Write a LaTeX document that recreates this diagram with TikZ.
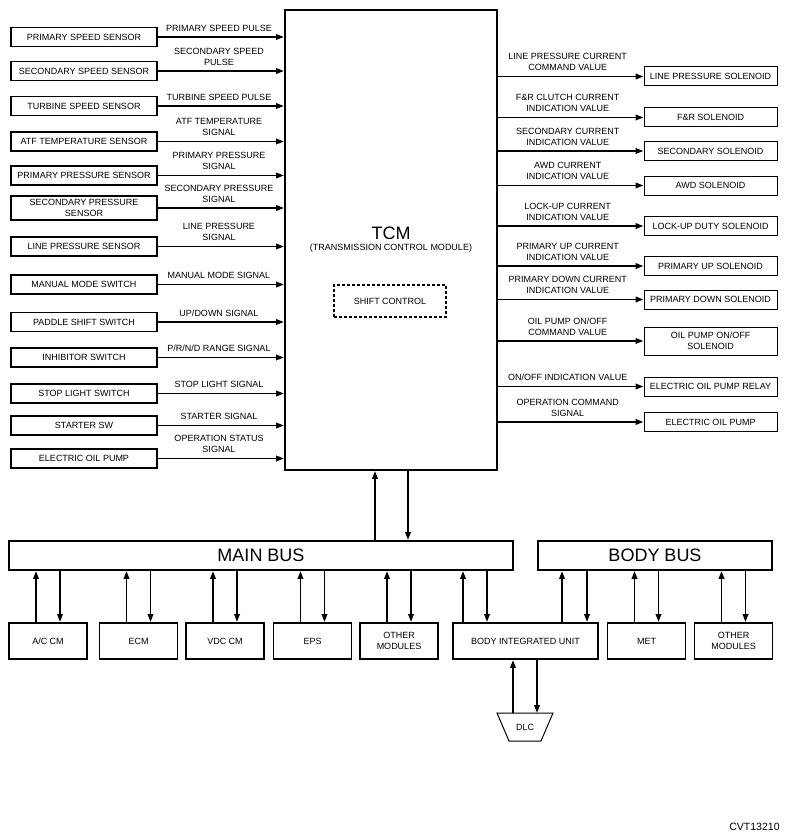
\documentclass[tikz,border=0pt]{standalone}
\usepackage{fontspec}
\setmainfont{Liberation Sans}
\usetikzlibrary{arrows.meta}
\newcommand{\fs}{\fontsize{9}{11}\selectfont}
\begin{document}
\begin{tikzpicture}[x=1pt,y=-1pt,
  lbox/.style={draw, line width=1.9pt, minimum width=146pt, minimum height=19pt, inner sep=0pt, align=center, font=\fs},
  rbox/.style={draw, line width=1pt, minimum width=133pt, minimum height=19pt, inner sep=0pt, align=center, font=\fs},
  mbox/.style={draw, line width=1.9pt, minimum width=78pt, minimum height=36pt, inner sep=0pt, align=center, font=\fs},
  busbox/.style={draw, line width=1.9pt, minimum height=29pt, inner sep=0pt, font=\fontsize{18}{20}\selectfont},
  sig/.style={font=\fs, align=center, anchor=south, inner sep=0pt, text depth=0pt, yshift=5pt},
  arr/.style={line width=1.9pt, -{Triangle[length=8pt,width=5.5pt]}}]
\useasboundingbox (0,0) rectangle (791,840);

% TCM
\node[draw, line width=1.9pt, minimum width=212pt, minimum height=460pt, inner sep=0pt] (tcm) at (391,240) {};
\node[font=\fontsize{18}{20}\selectfont, inner sep=0pt] (tcmt) at (391,233) {TCM};
\node[font=\fs, inner sep=0pt] (tcms) at (391,248) {(TRANSMISSION CONTROL MODULE)};
\node[draw, line width=1.4pt, dash pattern=on 3pt off 2pt, minimum width=112pt, minimum height=32pt, inner sep=0pt, font=\fs] (shift) at (390,301) {SHIFT CONTROL};

% left inputs
\node[lbox] (l1) at (84,37) {PRIMARY SPEED SENSOR};
\node[lbox] (l2) at (84,71) {SECONDARY SPEED SENSOR};
\node[lbox] (l3) at (84,106) {TURBINE SPEED SENSOR};
\node[lbox] (l4) at (84,141.5) {ATF TEMPERATURE SENSOR};
\node[lbox] (l5) at (84,175.5) {PRIMARY PRESSURE SENSOR};
\node[lbox, minimum height=24pt] (l6) at (84,208) {SECONDARY PRESSURE\\SENSOR};
\node[lbox] (l7) at (84,246.5) {LINE PRESSURE SENSOR};
\node[lbox] (l8) at (84,284.5) {MANUAL MODE SWITCH};
\node[lbox] (l9) at (84,322) {PADDLE SHIFT SWITCH};
\node[lbox] (l10) at (84,357.5) {INHIBITOR SWITCH};
\node[lbox] (l11) at (84,393.5) {STOP LIGHT SWITCH};
\node[lbox] (l12) at (84,425.5) {STARTER SW};
\node[lbox] (l13) at (84,458.5) {ELECTRIC OIL PUMP};

\draw[arr] (l1.east) -- (tcm.west |- l1.east) node[midway, sig, xshift=-2pt] {PRIMARY SPEED PULSE};
\draw[arr] (l2.east) -- (tcm.west |- l2.east) node[midway, sig, xshift=-2pt] {SECONDARY SPEED\\PULSE};
\draw[arr] (l3.east) -- (tcm.west |- l3.east) node[midway, sig, xshift=-2pt] {TURBINE SPEED PULSE};
\draw[arr] (l4.east) -- (tcm.west |- l4.east) node[midway, sig, xshift=-2pt] {ATF TEMPERATURE\\SIGNAL};
\draw[arr] (l5.east) -- (tcm.west |- l5.east) node[midway, sig, xshift=-2pt] {PRIMARY PRESSURE\\SIGNAL};
\draw[arr] (l6.east) -- (tcm.west |- l6.east) node[midway, sig, xshift=-2pt] {SECONDARY PRESSURE\\SIGNAL};
\draw[arr] (l7.east) -- (tcm.west |- l7.east) node[midway, sig, xshift=-2pt] {LINE PRESSURE\\SIGNAL};
\draw[arr] (l8.east) -- (tcm.west |- l8.east) node[midway, sig, xshift=-2pt] {MANUAL MODE SIGNAL};
\draw[arr] (l9.east) -- (tcm.west |- l9.east) node[midway, sig, xshift=-2pt] {UP/DOWN SIGNAL};
\draw[arr] (l10.east) -- (tcm.west |- l10.east) node[midway, sig, xshift=-2pt] {P/R/N/D RANGE SIGNAL};
\draw[arr] (l11.east) -- (tcm.west |- l11.east) node[midway, sig, xshift=-2pt] {STOP LIGHT SIGNAL};
\draw[arr] (l12.east) -- (tcm.west |- l12.east) node[midway, sig, xshift=-2pt] {STARTER SIGNAL};
\draw[arr] (l13.east) -- (tcm.west |- l13.east) node[midway, sig, xshift=-2pt] {OPERATION STATUS\\SIGNAL};

% right outputs
\node[rbox] (r1) at (710.5,76.5) {LINE PRESSURE SOLENOID};
\node[rbox] (r2) at (710.5,117.5) {F\&R SOLENOID};
\node[rbox] (r3) at (710.5,151) {SECONDARY SOLENOID};
\node[rbox] (r4) at (710.5,185.5) {AWD SOLENOID};
\node[rbox] (r5) at (710.5,226) {LOCK-UP DUTY SOLENOID};
\node[rbox] (r6) at (710.5,266) {PRIMARY UP SOLENOID};
\node[rbox] (r7) at (710.5,299.5) {PRIMARY DOWN SOLENOID};
\node[rbox, minimum height=28pt] (r8) at (710.5,341) {OIL PUMP ON/OFF\\SOLENOID};
\node[rbox] (r9) at (710.5,386.5) {ELECTRIC OIL PUMP RELAY};
\node[rbox] (r10) at (710.5,422) {ELECTRIC OIL PUMP};

\draw[arr] (tcm.east |- r1.west) -- (r1.west) node[midway, sig, xshift=-3pt] {LINE PRESSURE CURRENT\\COMMAND VALUE};
\draw[arr] (tcm.east |- r2.west) -- (r2.west) node[midway, sig, xshift=-3pt] {F\&R CLUTCH CURRENT\\INDICATION VALUE};
\draw[arr] (tcm.east |- r3.west) -- (r3.west) node[midway, sig, xshift=-3pt] {SECONDARY CURRENT\\INDICATION VALUE};
\draw[arr] (tcm.east |- r4.west) -- (r4.west) node[midway, sig, xshift=-3pt] {AWD CURRENT\\INDICATION VALUE};
\draw[arr] (tcm.east |- r5.west) -- (r5.west) node[midway, sig, xshift=-3pt] {LOCK-UP CURRENT\\INDICATION VALUE};
\draw[arr] (tcm.east |- r6.west) -- (r6.west) node[midway, sig, xshift=-3pt] {PRIMARY UP CURRENT\\INDICATION VALUE};
\draw[arr] (tcm.east |- r7.west) -- (r7.west) node[midway, sig, xshift=-3pt] {PRIMARY DOWN CURRENT\\INDICATION VALUE};
\draw[arr] (tcm.east |- r8.west) -- (r8.west) node[midway, sig, xshift=-3pt] {OIL PUMP ON/OFF\\COMMAND VALUE};
\draw[arr] (tcm.east |- r9.west) -- (r9.west) node[midway, sig, xshift=-3pt] {ON/OFF INDICATION VALUE};
\draw[arr] (tcm.east |- r10.west) -- (r10.west) node[midway, sig, xshift=-3pt] {OPERATION COMMAND\\SIGNAL};

% buses
\node[busbox, minimum width=504pt] (mainbus) at (261,555.5) {MAIN BUS};
\node[busbox, minimum width=234pt] (bodybus) at (655,555.5) {BODY BUS};

\draw[arr] ([xshift=-16pt]tcm.south |- mainbus.north) -- ([xshift=-16pt]tcm.south);
\draw[arr] ([xshift=17pt]tcm.south) -- ([xshift=17pt]tcm.south |- mainbus.north);

% modules
\node[mbox] (ac) at (48,641) {A/C CM};
\node[mbox] (ecm) at (138.5,641) {ECM};
\node[mbox] (vdc) at (225,641) {VDC CM};
\node[mbox] (eps) at (312.5,641) {EPS};
\node[mbox] (oth1) at (399,641) {OTHER\\MODULES};
\node[mbox, minimum width=145pt] (biu) at (525.5,641) {BODY INTEGRATED UNIT};
\node[mbox] (met) at (646.5,641) {MET};
\node[mbox] (oth2) at (733.5,641) {OTHER\\MODULES};

\foreach \m/\b in {ac/mainbus, ecm/mainbus, vdc/mainbus, eps/mainbus, oth1/mainbus, met/bodybus, oth2/bodybus}{
  \draw[arr] ([xshift=-12pt]\m.north) -- ([xshift=-12pt]\m.north |- \b.south);
  \draw[arr] ([xshift=12pt]\m.north |- \b.south) -- ([xshift=12pt]\m.north);
}
\draw[arr] ([xshift=-62.5pt]biu.north) -- ([xshift=-62.5pt]biu.north |- mainbus.south);
\draw[arr] ([xshift=-38.5pt]biu.north |- mainbus.south) -- ([xshift=-38.5pt]biu.north);
\draw[arr] ([xshift=36.5pt]biu.north) -- ([xshift=36.5pt]biu.north |- bodybus.south);
\draw[arr] ([xshift=61.5pt]biu.north |- bodybus.south) -- ([xshift=61.5pt]biu.north);

% DLC
\draw[line width=1pt] (497,713) -- (553,713) -- (541,741) -- (509,741) -- cycle;
\node[font=\fs, inner sep=0pt] (dlc) at (525,727) {DLC};
\coordinate (dlctop) at (525,713);
\draw[arr] ([xshift=-12.5pt]biu.south |- dlctop) -- ([xshift=-12.5pt]biu.south);
\draw[arr] ([xshift=11.5pt]biu.south) -- ([xshift=11.5pt]biu.south |- dlctop);

\node[font=\fontsize{10.5}{12}\selectfont, inner sep=0pt] (code) at (754.5,827) {CVT13210};
\end{tikzpicture}
\end{document}
